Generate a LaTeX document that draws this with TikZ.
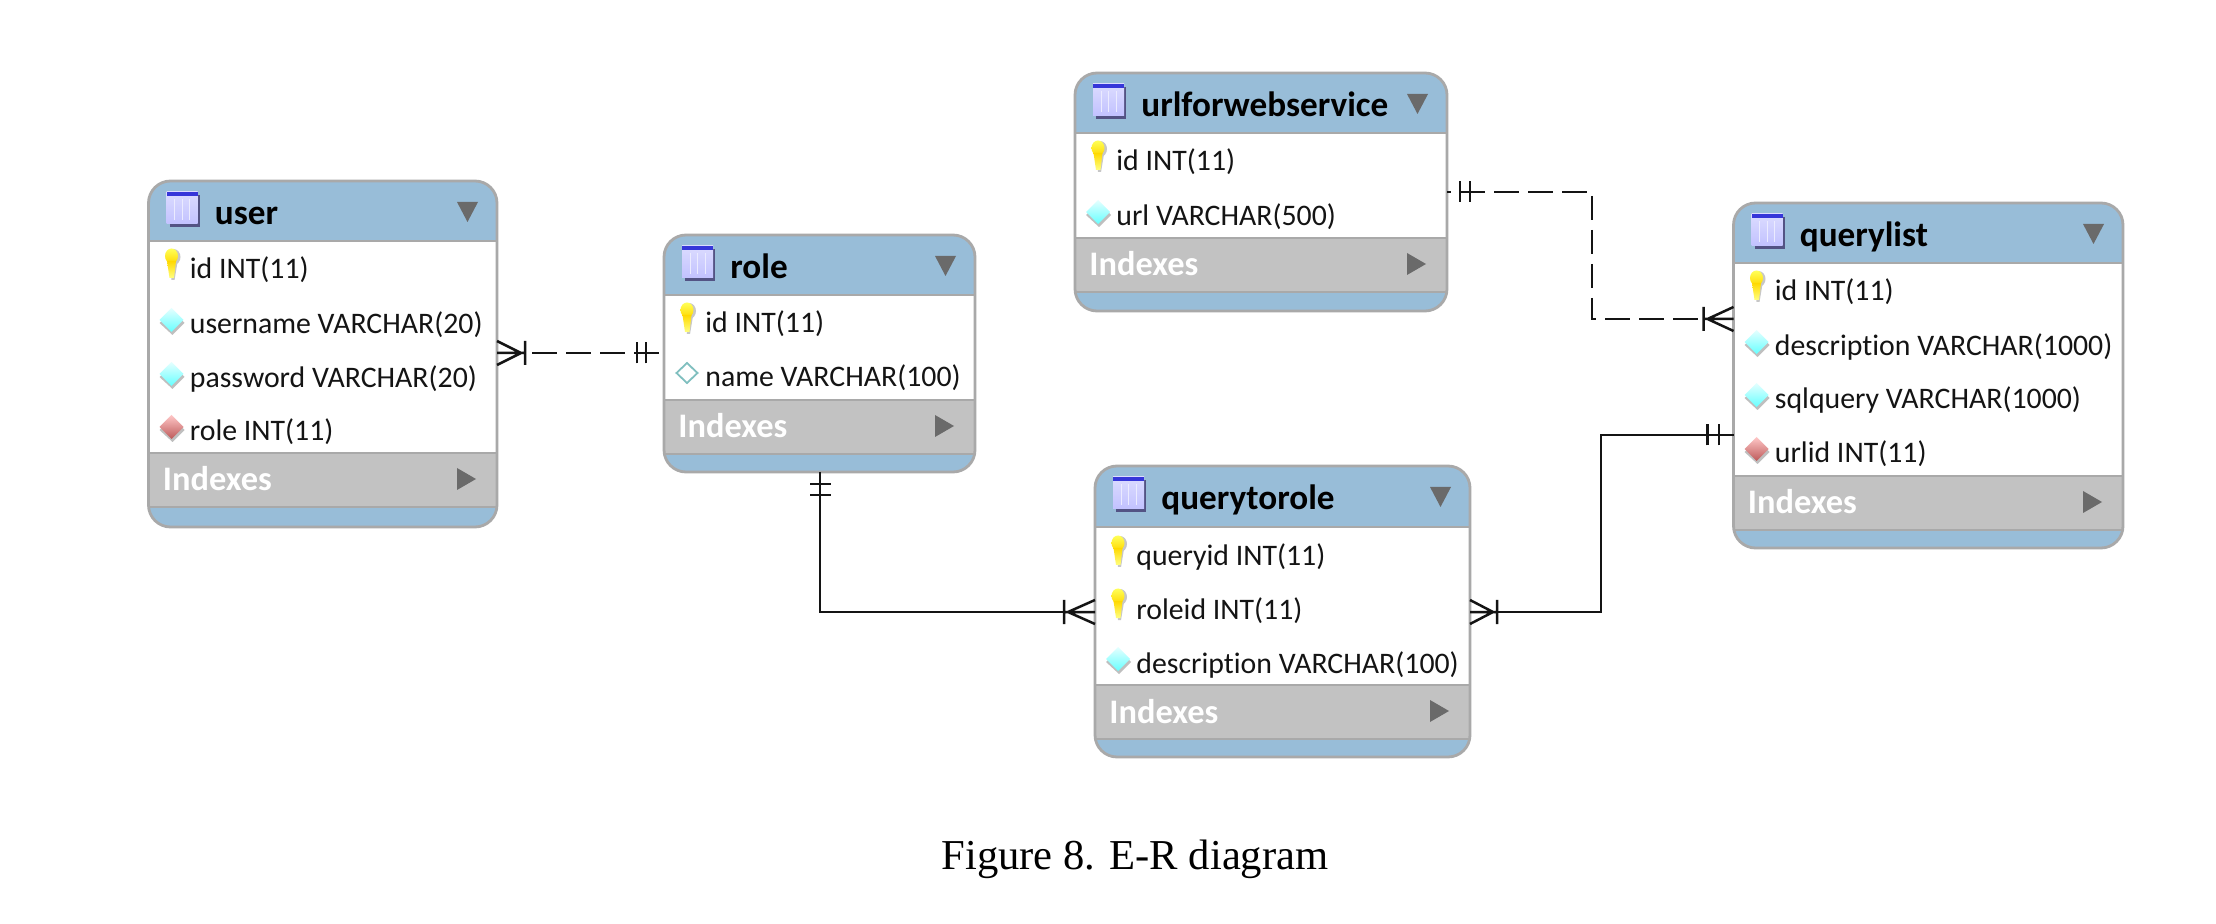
\documentclass[tikz,border=0pt]{standalone}
\usepackage{fontspec}
\setmainfont{Liberation Serif}
\newfontfamily\erfont[Ligatures=NoCommon]{Carlito}
\usetikzlibrary{calc}
\definecolor{hdr}{HTML}{98BDD8}
\definecolor{band}{HTML}{C2C2C2}
\definecolor{edge}{HTML}{A9A9A9}
\definecolor{tri}{HTML}{6A6A6A}
\definecolor{ink}{HTML}{141414}
\tikzset{
  x=0.5pt,y=-0.5pt,
  tablebody/.style={rectangle,fill=hdr,inner sep=0pt,outer sep=0pt,rounded corners=11pt},
  tableedge/.style={draw=edge,line width=1.4pt,rounded corners=11pt},
  title/.style={anchor=base west,inner sep=0pt,font=\erfont\bfseries\fontsize{17.6}{18}\selectfont,text=black},
  rowtext/.style={anchor=base west,inner sep=0pt,font=\erfont\fontsize{14.9}{18}\selectfont,text=ink},
  idxtext/.style={anchor=base west,inner sep=0pt,font=\erfont\bfseries\fontsize{17.2}{18}\selectfont,text=white},
  rel/.style={draw=ink,line width=1.25pt},
  caption/.style={inner sep=0pt,font=\fontsize{21.3}{24}\selectfont,text=black},
}
% icons: x, y of the icon centre
\newcommand\iconkey[2]{%
  \fill[black!22] (#1+2,#2-8) circle[x radius=7,y radius=8];
  \fill[black!22] (#1-1,#2-3) -- (#1+6,#2-3) -- (#1+3,#2+15) -- (#1+0,#2+15) -- cycle;
  \shade[top color=yellow!65!white,bottom color=yellow!70!orange] (#1,#2-9) circle[x radius=6.5,y radius=7.5];
  \shade[top color=yellow!70!orange,bottom color=yellow!50!white] (#1-4.5,#2-4) -- (#1+4.5,#2-4) -- (#1+2.5,#2+13) -- (#1-2,#2+13) -- cycle;}
\newcommand\icondia[2]{%
  \fill[black!25] (#1+1,#2-9) -- (#1+13,#2+3) -- (#1+1,#2+15) -- (#1-12,#2+3) -- cycle;
  \shade[top color=cyan!10!white,bottom color=cyan!60!white] (#1,#2-12) -- (#1+12,#2) -- (#1,#2+12) -- (#1-12,#2) -- cycle;}
\newcommand\iconred[2]{%
  \fill[black!25] (#1+1,#2-9) -- (#1+13,#2+3) -- (#1+1,#2+15) -- (#1-12,#2+3) -- cycle;
  \shade[top color=red!22!white,bottom color=red!60!black!65!white] (#1,#2-12) -- (#1+12,#2) -- (#1,#2+12) -- (#1-12,#2) -- cycle;}
\newcommand\iconopen[2]{%
  \draw[draw=teal!50!white,line width=0.9pt,fill=white] (#1,#2-10) -- (#1+10.5,#2) -- (#1,#2+10) -- (#1-10.5,#2) -- cycle;}
% table: name, x1, y1, x2, y2, header bottom, white bottom, title, rows (icon/y/text)
\newcommand\ertable[9]{%
  \pgfmathsetmacro\tw{(#4-#2)*0.5}\pgfmathsetmacro\th{(#5-#3)*0.5}
  \node[tablebody,minimum width=\tw pt,minimum height=\th pt] (#1) at ({(#2+#4)/2},{(#3+#5)/2}) {};
  \begin{scope}
    \clip[rounded corners=11pt] (#2,#3) rectangle (#4,#5);
    \fill[white] (#2,#6) rectangle (#4,#7);
    \fill[band] (#2,#7) rectangle (#4,#7+54);
    \draw[edge,line width=1pt] (#2,#6) -- (#4,#6) (#2,#7) -- (#4,#7) (#2,#7+54) -- (#4,#7+54);
  \end{scope}
  \draw[tableedge] (#1.south west) rectangle (#1.north east);
  % table icon
  \fill[black!45!blue!35!gray] (#2+21,#3+14) rectangle (#2+51,#3+46);
  \shade[top color=blue!14!white,bottom color=blue!24!white] (#2+18,#3+11) rectangle (#2+49,#3+43);
  \fill[blue!75!white!85!black] (#2+18,#3+11) rectangle (#2+49,#3+15);
  \draw[blue!8!white,line width=0.5pt] (#2+26,#3+18) -- (#2+26,#3+39) (#2+33.5,#3+18) -- (#2+33.5,#3+39) (#2+41,#3+18) -- (#2+41,#3+39);
  \node[title] (#1-title) at (#2+66,#3+44) {#8};
  \fill[tri] (#4-40,#3+21) -- (#4-19,#3+21) -- (#4-29.5,#3+41) -- cycle;
  \fill[tri] (#4-40,#7+15) -- (#4-21,#7+26) -- (#4-40,#7+37) -- cycle;
  \node[idxtext] (#1-indexes) at (#2+14,#7+38) {Indexes};
  \foreach \ic/\ry/\rt [count=\rn] in {#9} {
    \csname icon\ic\endcsname{#2+23}{\ry-3}
    \node[rowtext] (#1-r\rn) at (#2+41,\ry+11) {\rt};
  }
}
\newcommand\crowmark[3]{% position, rotation, apex distance
  \begin{scope}[shift={#1},rotate=#2]
    \draw[rel] (0,-12) -- (#3,0) -- (0,12) (0,0) -- (#3+4,0) (#3+4,-12) -- (#3+4,12);
  \end{scope}}
\newcommand\barmark[4]{% position, rotation, first bar, second bar
  \begin{scope}[shift={#1},rotate=#2]
    \draw[rel] (#3,-10.5) -- (#3,10.5) (#4,-10.5) -- (#4,10.5);
  \end{scope}}
\begin{document}
\begin{tikzpicture}
\useasboundingbox[fill=white] (0,0) rectangle (2216,924);
\ertable{user}{148.5}{181}{497}{527}{241}{453}{user}{key/268/id INT(11),dia/323/username VARCHAR(20),dia/377/password VARCHAR(20),red/430/role INT(11)}
\ertable{role}{664}{235}{975}{472}{295}{400}{role}{key/322/id INT(11),open/376/name VARCHAR(100)}
\ertable{url}{1075}{73}{1447}{311}{133}{238}{urlforwebservice}{key/160/id INT(11),dia/215/url VARCHAR(500)}
\ertable{list}{1733.5}{203}{2123}{548}{263}{476}{querylist}{key/290/id INT(11),dia/345/description VARCHAR(1000),dia/398/sqlquery VARCHAR(1000),red/452/urlid INT(11)}
\ertable{qtr}{1095}{466}{1470}{757}{527}{685}{querytorole}{key/555/queryid INT(11),key/608/roleid INT(11),dia/662/description VARCHAR(100)}
% connector levels and bends
\coordinate (lvlA) at (0,353);
\coordinate (lvlB) at (0,192);
\coordinate (lvlC) at (1592,319);
\coordinate (lvlD) at (820,612);
\coordinate (lvlE) at (1601,435);
% user - role
\draw[rel,dash pattern=on 12.25pt off 4.75pt,dash phase=16.5pt] (user.east |- lvlA) -- (role.west |- lvlA);
\crowmark{(user.east |- lvlA)}{0}{24}
\barmark{(role.west |- lvlA)}{180}{18}{27}
% urlforwebservice - querylist
\draw[rel,dash pattern=on 12.25pt off 4.75pt,dash phase=10.5pt] (url.east |- lvlB) -| (lvlC) -- (list.west |- lvlC);
\barmark{(url.east |- lvlB)}{0}{13}{23}
\crowmark{(list.west |- lvlC)}{180}{26}
% role - querytorole
\draw[rel] (role.south -| lvlD) -- (lvlD) -- (qtr.west |- lvlD);
\barmark{(role.south -| lvlD)}{-90}{12}{23}
\crowmark{(qtr.west |- lvlD)}{180}{27}
% querytorole - querylist
\draw[rel] (qtr.east |- lvlD) -| (lvlE) -- (list.west |- lvlE);
\crowmark{(qtr.east |- lvlD)}{0}{23}
\barmark{(list.west |- lvlE)}{180}{14.5}{26}
\node[caption] (cap) at (1135,859) {Figure 8. E-R diagram};
\end{tikzpicture}
\end{document}
